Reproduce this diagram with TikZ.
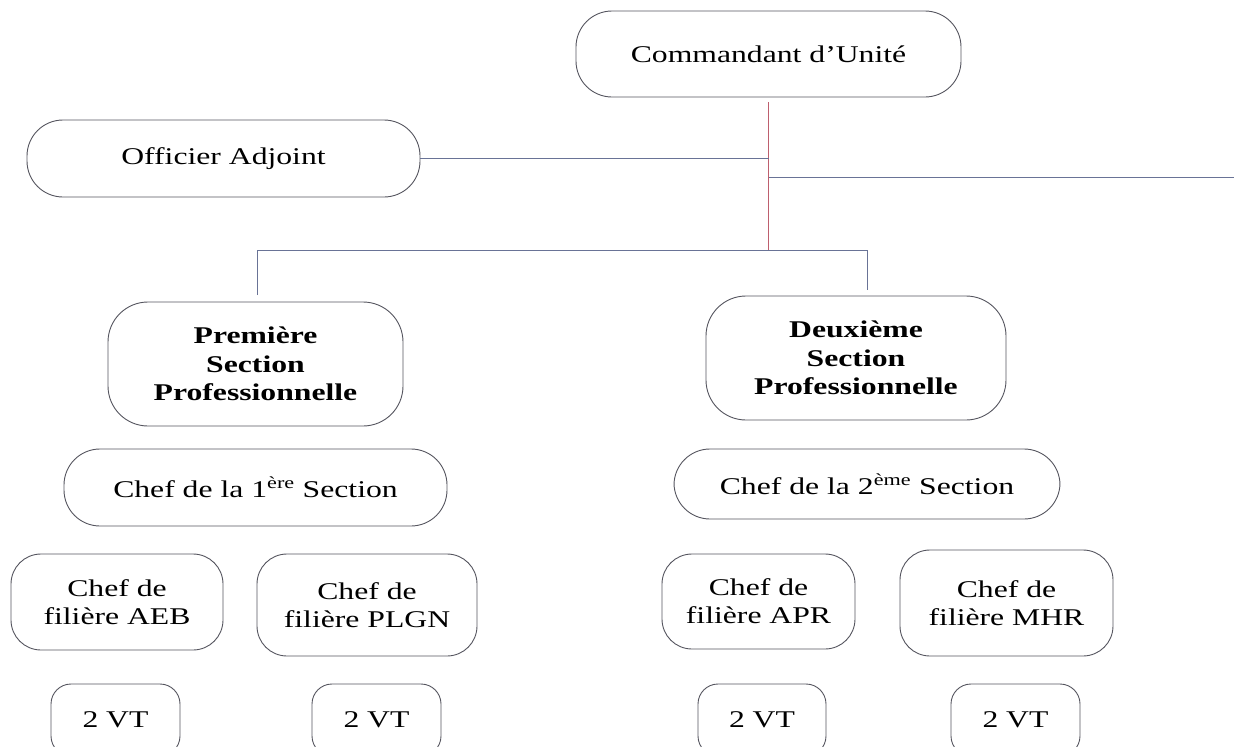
\documentclass[tikz,border=0pt]{standalone}
\usepackage{fontspec}
\setmainfont{Liberation Serif}[FakeStretch=1.32]
\usetikzlibrary{calc}
\definecolor{boxline}{RGB}{85,85,95}
\definecolor{connline}{RGB}{105,115,150}
\definecolor{mainline}{RGB}{190,95,110}
\tikzset{
  x=1pt, y=-1pt,
  box/.style={draw=boxline, line width=0.9pt, fill=white, align=center, inner sep=0pt,
              font=\fontsize{24}{28}\selectfont},
  pill/.style={box, rounded corners=36pt},
  secbox/.style={box, rounded corners=40pt, font=\fontsize{24}{28.5}\selectfont\bfseries},
  filbox/.style={box, rounded corners=30pt},
  vtbox/.style={box, rounded corners=20pt},
  conn/.style={draw=connline, line width=0.8pt},
  mainconn/.style={draw=mainline, line width=0.9pt}
}
\begin{document}
\begin{tikzpicture}
\path[use as bounding box] (0,0) rectangle (1237,747);
\clip (0,0) rectangle (1237,747);

% top level
\node[pill, minimum width=385pt, minimum height=86pt] (cmd) at (768.5,54) {Commandant d’Unité};
\node[pill, minimum width=393pt, minimum height=77pt] (oa) at (223.5,158.5) {Officier Adjoint};

% sections
\node[secbox, minimum width=295pt, minimum height=124pt] (s1) at (255.5,364) {Première\\Section\\Professionnelle};
\node[secbox, minimum width=300pt, minimum height=124pt] (s2) at (856,358) {Deuxième\\Section\\Professionnelle};

% section chiefs
\node[pill, minimum width=383pt, minimum height=77pt] (c1) at (255.5,487.5) {Chef de la 1\textsuperscript{ère} Section};
\node[pill, minimum width=386pt, minimum height=70pt] (c2) at (867,484) {Chef de la 2\textsuperscript{ème} Section};

% filières
\node[filbox, minimum width=212pt, minimum height=96pt] (f1) at (117,602) {Chef de\\filière AEB};
\node[filbox, minimum width=220pt, minimum height=102pt] (f2) at (367,605) {Chef de\\filière PLGN};
\node[filbox, minimum width=193pt, minimum height=95pt] (f3) at (758.5,601.5) {Chef de\\filière APR};
\node[filbox, minimum width=213pt, minimum height=106pt] (f4) at (1006.5,603) {Chef de\\filière MHR};

% VT boxes (cut by the bottom edge)
\node[vtbox, minimum width=129pt, minimum height=72pt] (v1) at (115.5,720) {2 VT};
\node[vtbox, minimum width=129pt, minimum height=72pt] (v2) at (376.5,720) {2 VT};
\node[vtbox, minimum width=128pt, minimum height=72pt] (v3) at (762,720) {2 VT};
\node[vtbox, minimum width=129pt, minimum height=72pt] (v4) at (1015.5,720) {2 VT};

% connectors
\coordinate (j1) at (768.5,250);
\coordinate (rt) at (1234,177);
\coordinate (s1top) at (257,295);
\coordinate (s2top) at (867,290);
\draw[mainconn] ([yshift=-5pt]cmd.south) -- (j1);
\draw[conn] (oa.east) -- (oa.east -| j1);
\draw[conn] (rt -| j1) -- (rt);
\draw[conn] (s1top) -- (s1top |- j1) -- (s2top |- j1) -- (s2top);
\end{tikzpicture}
\end{document}
